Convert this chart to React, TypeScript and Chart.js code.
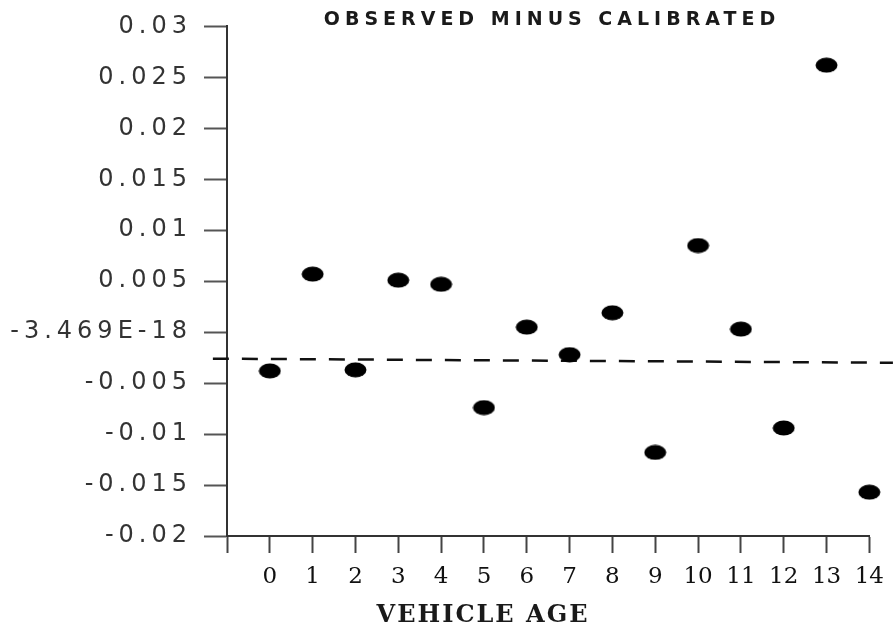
import React, { useEffect, useRef } from "react";
import { Chart, registerables } from "chart.js";

Chart.register(...registerables);

// ---- data ----
const vehicleAges = [0, 1, 2, 3, 4, 5, 6, 7, 8, 9, 10, 11, 12, 13, 14];
const observedMinusCalibrated = [
  -0.0038, 0.0057, -0.0037, 0.0051, 0.0047, -0.0074, 0.0005, -0.0022, 0.0019,
  -0.0118, 0.0085, 0.0003, -0.0094, 0.0262, -0.0157,
];
const referenceLineX = [-1.33, 14.55];
const referenceLineY = [-0.0026, -0.003];
const yTickLabels = [
  "-0.02", "-0.015", "-0.01", "-0.005", "-3.469E-18", "0.005", "0.01", "0.015", "0.02", "0.025", "0.03",
];
const xTickLabels = ["", "0", "1", "2", "3", "4", "5", "6", "7", "8", "9", "10", "11", "12", "13", "14"];
const chartTitle = "OBSERVED MINUS CALIBRATED";
const xAxisTitle = "VEHICLE AGE";

function makeMarker(): HTMLCanvasElement {
  const c = document.createElement("canvas");
  c.width = 23;
  c.height = 16;
  const g = c.getContext("2d")!;
  g.fillStyle = "#000";
  g.beginPath();
  g.ellipse(11.5, 8, 11, 7.5, 0, 0, Math.PI * 2);
  g.fill();
  return c;
}

export default function App() {
  const ref = useRef<HTMLCanvasElement | null>(null);
  useEffect(() => {
    document.body.style.margin = "0";
    const canvas = ref.current!;
    const marker = makeMarker();

    const spacingPlugin = {
      id: "labelSpacing",
      afterLayout(chart: any) {
        const wrap = (scale: any, sp: string) => {
          if (!scale || scale.__wrapped) return;
          const orig = scale.drawLabels.bind(scale);
          scale.drawLabels = (ca: any) => {
            const ctx = chart.ctx;
            ctx.save();
            (ctx as any).letterSpacing = sp;
            orig(ca);
            ctx.restore();
          };
          scale.__wrapped = true;
        };
        wrap(chart.scales.y, "5px");
        wrap(chart.scales.x, "0px");
      },
    };

    const textPlugin = {
      id: "texts",
      afterDraw(chart: any) {
        const ctx = chart.ctx;
        ctx.save();
        ctx.fillStyle = "#1a1a1a";
        ctx.textAlign = "center";
        ctx.textBaseline = "alphabetic";
        ctx.font = 'bold 19px "DejaVu Sans"';
        (ctx as any).letterSpacing = "5px";
        ctx.fillText(chartTitle, 552, 25);
        ctx.font = 'bold 24px "DejaVu Serif"';
        (ctx as any).letterSpacing = "2px";
        ctx.fillText(xAxisTitle, 483, 622);
        ctx.restore();
      },
    };

    const chart = new Chart(canvas, {
      type: "scatter",
      data: {
        datasets: [
          {
            data: vehicleAges.map((a, i) => ({ x: a, y: observedMinusCalibrated[i] })),
            pointStyle: marker as any,
            pointRadius: 8,
            backgroundColor: "#000",
            borderColor: "#000",
            showLine: false,
            clip: false as any,
          },
          {
            data: referenceLineX.map((x, i) => ({ x, y: referenceLineY[i] })),
            showLine: true,
            pointRadius: 0,
            borderColor: "#111",
            borderWidth: 2.5,
            borderDash: [16, 13],
            clip: false as any,
          },
        ],
      },
      options: {
        responsive: false,
        animation: false,
        layout: { padding: { top: 26, right: 24, bottom: 0, left: 0 } },
        plugins: {
          legend: { display: false },
          tooltip: { enabled: false },
          title: { display: false },
        },
        scales: {
          x: {
            type: "linear",
            min: -1,
            max: 14,
            afterFit: (s: any) => {
              s.height = 91;
            },
            ticks: {
              stepSize: 1,
              autoSkip: false,
              maxRotation: 0,
              padding: 10,
              color: "#111",
              font: { family: '"DejaVu Serif"', size: 23 },
              callback: (_v: any, i: number) => xTickLabels[i],
            },
            grid: {
              drawOnChartArea: false,
              drawTicks: true,
              tickLength: 17,
              tickWidth: 2,
              tickColor: "#444",
            },
            border: { display: true, color: "#333", width: 2 },
          },
          y: {
            type: "linear",
            min: -0.02,
            max: 0.03,
            afterFit: (s: any) => {
              s.width = 227;
            },
            ticks: {
              stepSize: 0.005,
              padding: 12,
              color: "#333",
              font: { family: '"DejaVu Sans"', size: 24 },
              callback: (_v: any, i: number) => yTickLabels[i],
            },
            grid: {
              drawOnChartArea: false,
              drawTicks: true,
              tickLength: 23,
              tickWidth: 2,
              tickColor: "#555",
            },
            border: { display: true, color: "#333", width: 2 },
          },
        },
      },
      plugins: [spacingPlugin, textPlugin],
    });
    return () => chart.destroy();
  }, []);
  return <canvas ref={ref} width={894} height={627} style={{ display: "block" }} />;
}
